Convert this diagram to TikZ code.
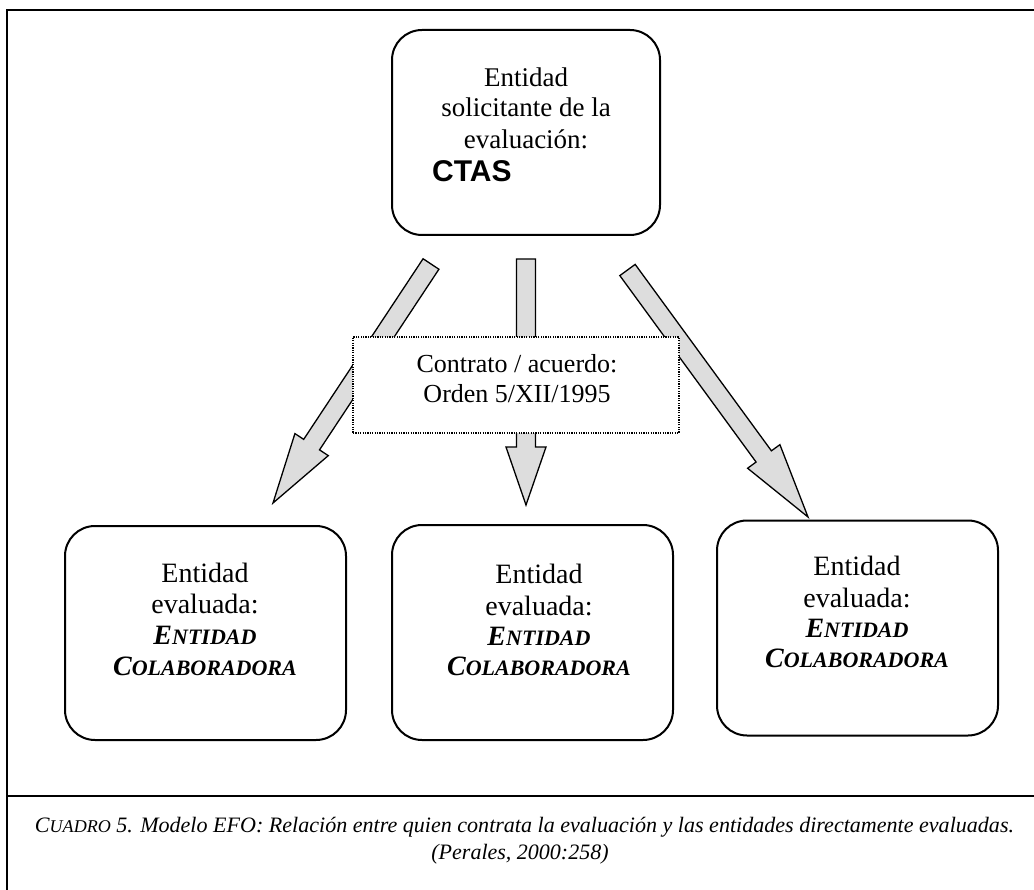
\documentclass[tikz,border=0pt]{standalone}
\usepackage{fontspec}
\usepackage{graphicx}
\setmainfont{Liberation Serif}
\newfontfamily\ctasfont{Liberation Sans}
\usetikzlibrary{calc}
\definecolor{arrowgray}{RGB}{221,221,221}

% fake small capitals: first letter full size, the rest reduced
\newcommand\efosc[2]{#1{\fontsize{22}{22}\selectfont #2}}
\newcommand\efocapsc[2]{#1{\fontsize{18}{18}\selectfont #2}}

% block arrow from tail centre #1 to tip #2 with head length #3
\newcommand\efoarrow[3]{%
  \path ($(#2)!#3!(#1)$) coordinate (hb);
  \draw[blockarrow]
    ($(#1)!9.5pt!90:(#2)$) -- ($(hb)!9.5pt!90:(#2)$) -- ($(hb)!20pt!90:(#2)$)
    -- (#2)
    -- ($(hb)!20pt!-90:(#2)$) -- ($(hb)!9.5pt!-90:(#2)$) -- ($(#1)!9.5pt!-90:(#2)$)
    -- cycle;
}

\begin{document}
\begin{tikzpicture}[x=1pt,y=-1pt,
  frameline/.style={line width=2.2pt, line cap=rect},
  entity/.style={draw, line width=2pt, rounded corners=30pt, inner sep=0pt},
  blockarrow/.style={draw, fill=arrowgray, line width=1.3pt, line join=miter},
  txt/.style={anchor=base, inner sep=0pt, font=\fontsize{27}{30}\selectfont},
  evtxt/.style={anchor=base, inner sep=0pt, font=\fontsize{28}{30}\selectfont},
  bitxt/.style={evtxt, font=\fontsize{28}{30}\selectfont\bfseries\itshape},
  agreement/.style={draw, fill=white, line width=1.5pt, dash pattern=on 1.2pt off 1.2pt, inner sep=0pt},
  captxt/.style={anchor=base, inner sep=0pt, font=\fontsize{22}{22}\selectfont\itshape}
]
\useasboundingbox (0,0) rectangle (1034,890);

% outer frame and caption rule
\draw[frameline] (1040,10) -- (7,10) -- (7,895);
\draw[frameline] (7,796) -- (1040,796);

% requesting entity
\node[entity, minimum width=268pt, minimum height=205pt] (src) at (526,132.5) {};
\node[txt] (src1) at (526,87) {Entidad};
\node[txt] (src2) at (526,117) {solicitante de la};
\node[txt] (src3) at (526,149) {evaluación:};
\node[anchor=base west, inner sep=0pt, font=\ctasfont\bfseries\fontsize{30}{30}\selectfont] (src4) at (432,182) {CTAS};

% evaluated entities
\node[entity, minimum width=281pt, minimum height=214pt] (ev1) at (205.5,633) {};
\node[evtxt] (ev1a) at (205,582) {Entidad};
\node[evtxt] (ev1b) at (205,613) {evaluada:};
\node[bitxt] (ev1c) at (205,644) {\efosc{E}{NTIDAD}};
\node[bitxt] (ev1d) at (205,675) {\efosc{C}{OLABORADORA}};

\node[entity, minimum width=281pt, minimum height=215pt] (ev2) at (532.5,632.5) {};
\node[evtxt] (ev2a) at (539,583) {Entidad};
\node[evtxt] (ev2b) at (539,615) {evaluada:};
\node[bitxt] (ev2c) at (539,645) {\efosc{E}{NTIDAD}};
\node[bitxt] (ev2d) at (539,675) {\efosc{C}{OLABORADORA}};

\node[entity, minimum width=281pt, minimum height=215pt] (ev3) at (857.5,628) {};
\node[evtxt] (ev3a) at (857,575) {Entidad};
\node[evtxt] (ev3b) at (857,607) {evaluada:};
\node[bitxt] (ev3c) at (857,637) {\efosc{E}{NTIDAD}};
\node[bitxt] (ev3d) at (857,667) {\efosc{C}{OLABORADORA}};

% block arrows from the requesting entity to the evaluated ones
\coordinate (t1) at (431,264);
\coordinate (p1) at (273,503);
\coordinate (t2) at (526,259);
\coordinate (p2) at (526,505);
\coordinate (t3) at (627.5,270);
\coordinate (p3) at (808,517);
\efoarrow{t1}{p1}{70pt}
\efoarrow{t2}{p2}{58pt}
\efoarrow{t3}{p3}{75pt}

% agreement label laid over the arrows
\node[agreement, minimum width=326pt, minimum height=96pt] (agr) at (516,385) {};
\node[txt, font=\fontsize{26}{30}\selectfont] (agr1) at (517,373) {Contrato / acuerdo:};
\node[txt, font=\fontsize{26}{30}\selectfont] (agr2) at (517,403) {Orden 5/XII/1995};

% caption
\node[captxt] (cap1) at (524.5,832) {\resizebox{979pt}{\height}{\efocapsc{C}{UADRO} 5. Modelo EFO: Relación entre quien contrata la evaluación y las entidades directamente evaluadas.}};
\node[captxt] (cap2) at (520,859) {(Perales, 2000:258)};
\end{tikzpicture}
\end{document}
